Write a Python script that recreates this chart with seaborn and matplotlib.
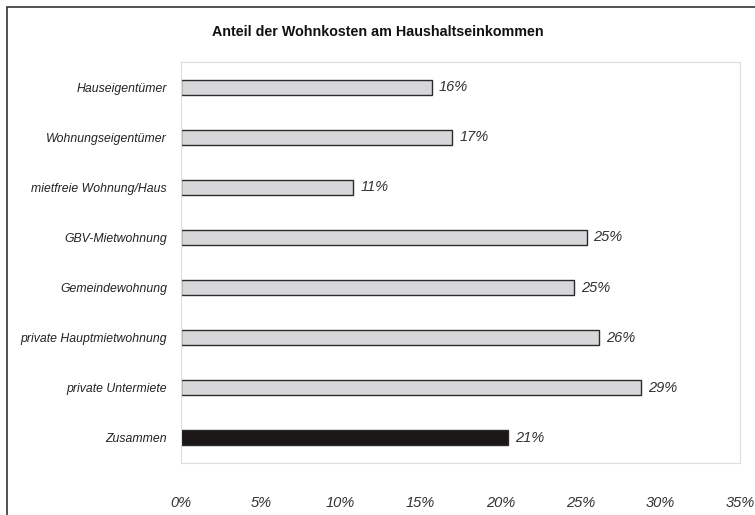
import pandas as pd
import matplotlib.pyplot as plt
import matplotlib.patches as mpatches
import seaborn as sns

categories = ["Hauseigentümer", "Wohnungseigentümer", "mietfreie Wohnung/Haus",
              "GBV-Mietwohnung", "Gemeindewohnung", "private Hauptmietwohnung",
              "private Untermiete", "Zusammen"]
values = [15.7, 17.0, 10.8, 25.4, 24.6, 26.2, 28.8, 20.5]
value_labels = ["16%", "17%", "11%", "25%", "25%", "26%", "29%", "21%"]
xticks = [0, 5, 10, 15, 20, 25, 30, 35]

df = pd.DataFrame({"Kategorie": categories, "Anteil": values})
df["Gruppe"] = ["einzeln"] * 7 + ["gesamt"]

sns.set_style("white")
plt.rcParams['font.family'] = ['Liberation Sans', 'DejaVu Sans']

fig = plt.figure(figsize=(7.55, 5.15), dpi=100)
ax = fig.add_axes([0.2397, 0.101, 0.7404, 0.7786])

sns.barplot(data=df, y="Kategorie", x="Anteil", hue="Gruppe", orient="h",
            palette={"einzeln": "#d6d6da", "gesamt": "#1c1616"},
            edgecolor="#2a2a2a", linewidth=1.0, width=0.3, dodge=False,
            legend=False, ax=ax)

for i, (v, lab) in enumerate(zip(values, value_labels)):
    ax.annotate(lab, (v, i), xytext=(5, 0), textcoords="offset points",
                va="center", ha="left", fontsize=10.5, style="italic", color="#333333")

ax.set_xlim(0, 35)
ax.set_ylim(7.5, -0.5)
ax.set_xticks(xticks)
ax.set_xticklabels([f"{t}%" for t in xticks], style="italic", fontsize=10.5, color="#333333")
ax.tick_params(axis="x", length=0, pad=24)
ax.tick_params(axis="y", length=0, pad=10, labelsize=8.8, labelcolor="#222222")
for t in ax.get_yticklabels():
    t.set_style("italic")
ax.set_xlabel("")
ax.set_ylabel("")
for s in ax.spines.values():
    s.set_color("#dcdce4")
    s.set_linewidth(0.8)

fig.text(0.5, 0.937, "Anteil der Wohnkosten am Haushaltseinkommen",
         ha="center", va="center", fontsize=10.3, fontweight="bold", color="#111111")

fig.patches.append(mpatches.Rectangle((0.009, -0.05), 1.1, 1.036, transform=fig.transFigure,
                                      fill=False, edgecolor="#333333", linewidth=1.2))

fig.savefig("out.png", dpi=100)
